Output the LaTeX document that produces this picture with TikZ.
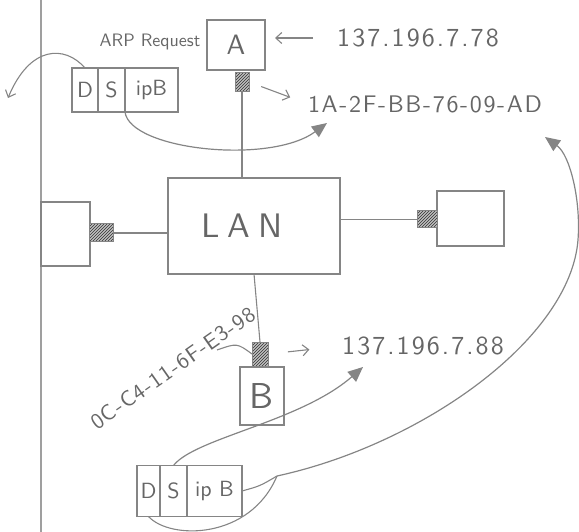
\documentclass[tikz,border=0pt]{standalone}
\usepackage{fontspec}
\setsansfont{lmsans10-regular.otf}
\usetikzlibrary{positioning,arrows.meta,calc,patterns}

\definecolor{pencil}{gray}{0.52}
\definecolor{ink}{gray}{0.40}
\newcommand{\spaced}[2]{{\addfontfeature{LetterSpace=#1}#2}}

\begin{document}
\begin{tikzpicture}[
    x=1pt, y=-1pt,
    >=Stealth,
    color=pencil,
    every node/.style={text=ink, inner sep=0pt, outer sep=0pt},
    hand/.style={font=\sffamily\fontsize{#1}{#1}\selectfont},
    host/.style={draw, line width=1.2pt},
    port/.style={draw, line width=1pt, preaction={fill=gray!50}, pattern=north east lines, pattern color=gray!40!black},
    cell/.style={draw, line width=1.2pt, hand=22},
    wire/.style={line width=1.1pt},
    note/.style={-{Straight Barb[length=6pt,width=11pt]}, line width=1.1pt},
    flow/.style={-{Triangle[length=15pt,width=13pt]}, line width=1.2pt},
]
\useasboundingbox (0,0) rectangle (579,532);

% ---- Margin of the sheet ----
\draw[line width=1.2pt, gray!75] (41,0) -- (41,532);

% ---- LAN and the hosts on it ----
\node[host, minimum width=172, minimum height=96, hand=34] (lan) at (254,226) {\spaced{24}{LAN}\kern24pt};

\node[host, minimum width=58, minimum height=50, hand=28] (hostA) at (236,45) {A};
\node[port, minimum width=14, minimum height=19] (portA) at (242,82) {};

\node[host, minimum width=49, minimum height=64] (hostL) at (65.5,234) {};
\node[port, minimum width=24, minimum height=18] (portL) at (101,233) {};

\node[host, minimum width=67, minimum height=55] (hostR) at (470.5,218.5) {};
\node[port, minimum width=20, minimum height=17] (portR) at (427,219.5) {};

\node[port, minimum width=16, minimum height=24] (portB) at (260,354) {};
\node[host, minimum width=44, minimum height=58, hand=36] (hostB) at (262,396) {B};

\draw[wire] (portA.south) -- (portA.south |- lan.north);
\draw[wire] (portL.east) -- (portL.east -| lan.west);
\draw[wire] (lan.east |- portR.west) -- (portR.west);
\draw[wire] (lan.south) -- (portB.north);

% ---- Addresses ----
\node[hand=26] (ipA) at (418,38) {\spaced{8}{137.196.7.78}};
\node[hand=24] (macA) at (425,104) {\spaced{7}{1A-2F-BB-76-09-AD}};
\node[hand=26] (ipB) at (423,346) {\spaced{8}{137.196.7.88}};
\node[hand=22, rotate=35] (macB) at (173,368) {\spaced{5}{0C-C4-11-6F-E3-98}};
\node[hand=18] (arpLabel) at (150,42) {ARP Request};

\draw[note, shorten <=24pt, shorten >=10pt] (ipA.west) -- (ipA.west -| hostA.east);
\draw[note, shorten <=13pt, shorten >=19pt] (portA.east) -- (macA.west);
\draw[note, shorten <=20pt, shorten >=33pt] (portB.east) -- (ipB.west);

\coordinate (macBtail) at (217,350);
\draw[wire] (macBtail) .. controls (237,343) .. (portB.west);

% ---- ARP request frame ----
\node[cell, minimum width=26, minimum height=44] (reqD) at (85,90) {D};
\node[cell, minimum width=27, minimum height=44, right=0pt of reqD] (reqS) {S};
\node[cell, minimum width=53, minimum height=44, right=0pt of reqS] (reqIP) {ipB};

\coordinate (lostEnd) at (8,98);
\coordinate (tipMacA) at (327,123);
\draw[note] (reqD.north) .. controls (65,45) and (30,45) .. (lostEnd);
\draw[flow] (reqS.south east) .. controls (130,150) and (270,165) .. (tipMacA);

% ---- Frame under B ----
\node[cell, minimum width=23, minimum height=51] (repD) at (148.5,491) {D};
\node[cell, minimum width=27, minimum height=51, right=0pt of repD] (repS) {S};
\node[cell, minimum width=55, minimum height=51, right=0pt of repS] (repIP) {ip B};

\coordinate (joint) at (277,476);
\coordinate (tipIpB) at (363,367);
\coordinate (tipMacEnd) at (545,137);
\draw[flow] (repS.north) .. controls (195,438) and (300,422) .. (tipIpB);
\draw[wire] (repD.south) .. controls (170,540) and (250,540) .. (joint);
\draw[wire] (repIP.east) .. controls (260,486) .. (joint);
\draw[flow] (joint) .. controls (420,445) and (570,340) .. (578,240)
    .. controls (581,200) and (570,155) .. (tipMacEnd);

\end{tikzpicture}
\end{document}
